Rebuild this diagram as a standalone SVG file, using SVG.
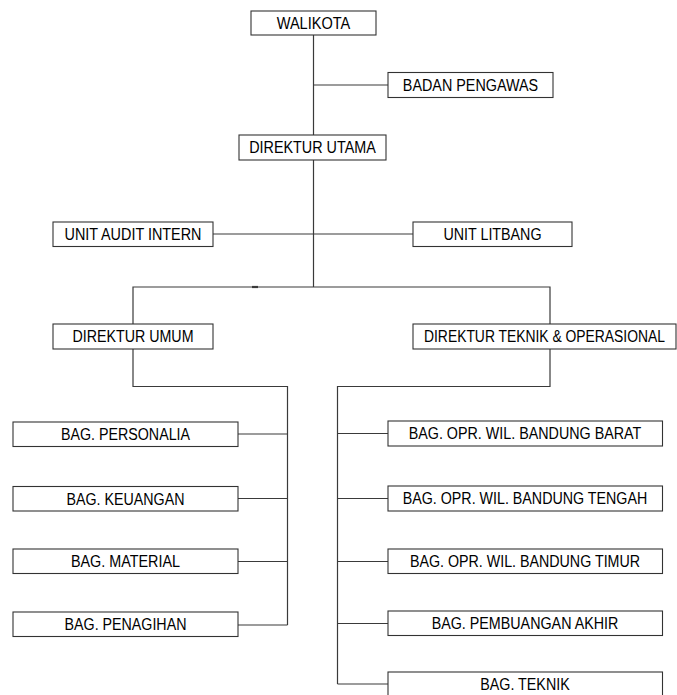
<svg xmlns="http://www.w3.org/2000/svg" width="677" height="695" viewBox="0 0 677 695">
  <style>
    .box { fill: #ffffff; stroke: #333333; stroke-width: 1.1; }
    .lbl { font-family: "Liberation Sans", Arial, sans-serif; font-size: 16px; fill: #000000; text-anchor: middle; }
    .wire { fill: none; stroke: #3a3a3a; stroke-width: 1.2; }
  </style>
  <rect width="677" height="695" fill="#ffffff"/>

  <!-- connectors -->
  <g id="connectors" class="wire">
    <path d="M313.5 35 V287"/>
    <path d="M313.5 85 H388"/>
    <path d="M213 234 H413"/>
    <path d="M133 324 V287 H550 V324"/>
    <path d="M252 287 H258" stroke-width="2.2"/>
    <!-- Direktur Umum branch -->
    <path d="M133 349 V386.5 H287.5 V625"/>
    <path d="M238 434 H287.5"/>
    <path d="M238 498.5 H287.5"/>
    <path d="M238 561.5 H287.5"/>
    <path d="M238 625 H287.5"/>
    <!-- Direktur Teknik branch -->
    <path d="M550 349 V386.5 H337.5 V684"/>
    <path d="M337.5 433.5 H388"/>
    <path d="M337.5 498.5 H388"/>
    <path d="M337.5 561.5 H388"/>
    <path d="M337.5 623.5 H388"/>
    <path d="M337.5 684 H388"/>
  </g>

  <g id="walikota">
    <rect class="box" x="251" y="11" width="125" height="24"/>
    <text class="lbl" x="313.5" y="28.8" textLength="73.6" lengthAdjust="spacingAndGlyphs">WALIKOTA</text>
  </g>
  <g id="badan-pengawas">
    <rect class="box" x="388" y="72.5" width="165" height="25"/>
    <text class="lbl" x="470.5" y="90.8" textLength="135.3" lengthAdjust="spacingAndGlyphs">BADAN PENGAWAS</text>
  </g>
  <g id="direktur-utama">
    <rect class="box" x="239" y="135" width="147" height="25"/>
    <text class="lbl" x="312.5" y="153.3" textLength="126.6" lengthAdjust="spacingAndGlyphs">DIREKTUR UTAMA</text>
  </g>
  <g id="unit-audit-intern">
    <rect class="box" x="53" y="222" width="160" height="24.5"/>
    <text class="lbl" x="133" y="240" textLength="137" lengthAdjust="spacingAndGlyphs">UNIT AUDIT INTERN</text>
  </g>
  <g id="unit-litbang">
    <rect class="box" x="413" y="222" width="159" height="24.5"/>
    <text class="lbl" x="492.5" y="240" textLength="98.1" lengthAdjust="spacingAndGlyphs">UNIT LITBANG</text>
  </g>
  <g id="direktur-umum">
    <rect class="box" x="53" y="324" width="160" height="25"/>
    <text class="lbl" x="133" y="342.3" textLength="121" lengthAdjust="spacingAndGlyphs">DIREKTUR UMUM</text>
  </g>
  <g id="direktur-teknik">
    <rect class="box" x="413" y="324" width="263" height="25"/>
    <text class="lbl" x="544.5" y="342.3" textLength="241" lengthAdjust="spacingAndGlyphs">DIREKTUR TEKNIK &amp; OPERASIONAL</text>
  </g>

  <g id="bag-personalia">
    <rect class="box" x="13" y="422" width="225" height="24.5"/>
    <text class="lbl" x="125.5" y="440" textLength="129" lengthAdjust="spacingAndGlyphs">BAG. PERSONALIA</text>
  </g>
  <g id="bag-keuangan">
    <rect class="box" x="13" y="486.5" width="225" height="24.5"/>
    <text class="lbl" x="125.5" y="504.5" textLength="117.9" lengthAdjust="spacingAndGlyphs">BAG. KEUANGAN</text>
  </g>
  <g id="bag-material">
    <rect class="box" x="13" y="549" width="225" height="24.5"/>
    <text class="lbl" x="125.5" y="567" textLength="109.2" lengthAdjust="spacingAndGlyphs">BAG. MATERIAL</text>
  </g>
  <g id="bag-penagihan">
    <rect class="box" x="13" y="612" width="225" height="24.5"/>
    <text class="lbl" x="125.5" y="630" textLength="121.9" lengthAdjust="spacingAndGlyphs">BAG. PENAGIHAN</text>
  </g>

  <g id="bag-opr-barat">
    <rect class="box" x="388" y="421" width="274.5" height="25"/>
    <text class="lbl" x="525" y="439.3" textLength="232.6" lengthAdjust="spacingAndGlyphs">BAG. OPR. WIL. BANDUNG BARAT</text>
  </g>
  <g id="bag-opr-tengah">
    <rect class="box" x="388" y="486" width="274.5" height="25"/>
    <text class="lbl" x="525" y="504.3" textLength="244.5" lengthAdjust="spacingAndGlyphs">BAG. OPR. WIL. BANDUNG TENGAH</text>
  </g>
  <g id="bag-opr-timur">
    <rect class="box" x="388" y="549" width="274.5" height="24.5"/>
    <text class="lbl" x="525" y="567" textLength="230.2" lengthAdjust="spacingAndGlyphs">BAG. OPR. WIL. BANDUNG TIMUR</text>
  </g>
  <g id="bag-pembuangan-akhir">
    <rect class="box" x="388" y="611" width="274.5" height="24.5"/>
    <text class="lbl" x="525" y="629" textLength="186.7" lengthAdjust="spacingAndGlyphs">BAG. PEMBUANGAN AKHIR</text>
  </g>
  <g id="bag-teknik">
    <rect class="box" x="388" y="672" width="274.5" height="25"/>
    <text class="lbl" x="525" y="690.3" textLength="89.4" lengthAdjust="spacingAndGlyphs">BAG. TEKNIK</text>
  </g>
</svg>
